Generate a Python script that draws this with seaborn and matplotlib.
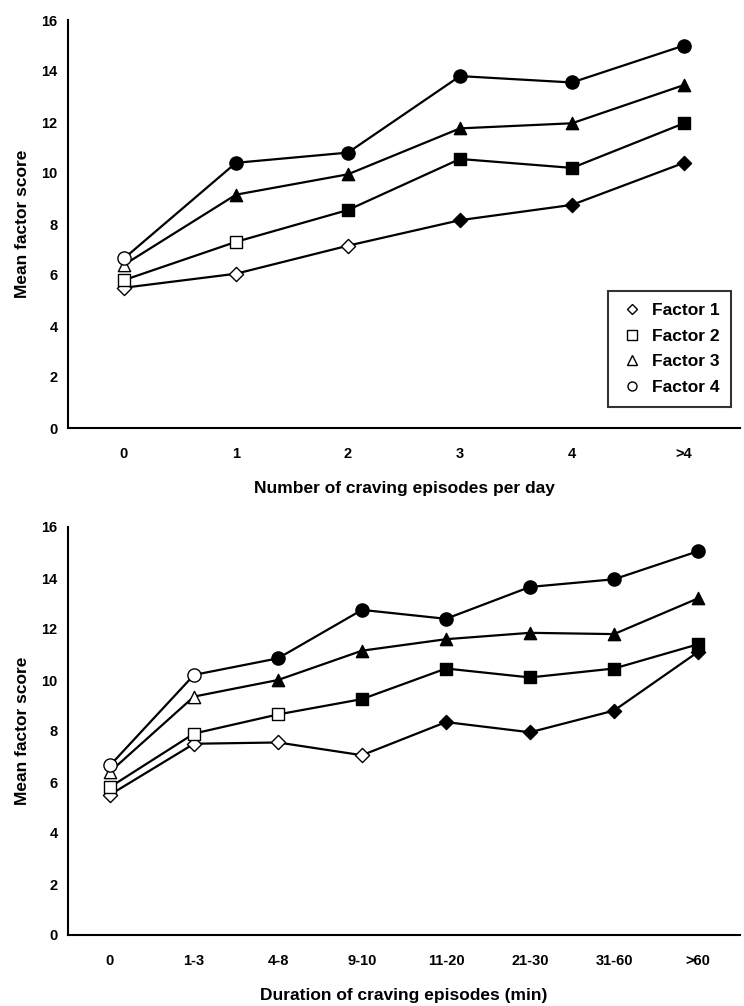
import matplotlib
matplotlib.use("Agg")
import matplotlib.pyplot as plt
from matplotlib.lines import Line2D
import pandas as pd
import seaborn as sns

factors = ["Factor 1", "Factor 2", "Factor 3", "Factor 4"]
markers = {"Factor 1": "D", "Factor 2": "s", "Factor 3": "^", "Factor 4": "o"}
marker_sizes = {"Factor 1": 52, "Factor 2": 66, "Factor 3": 78, "Factor 4": 90}

# top panel: number of craving episodes per day
episodes = ["0", "1", "2", "3", "4", ">4"]
ep_f1 = [5.5, 6.05, 7.15, 8.15, 8.75, 10.4]
ep_f2 = [5.8, 7.3, 8.55, 10.55, 10.2, 11.95]
ep_f3 = [6.4, 9.15, 9.95, 11.75, 11.95, 13.45]
ep_f4 = [6.65, 10.4, 10.8, 13.8, 13.55, 15.0]
# number of leading (open, non significant) points for each factor
ep_open = [3, 2, 1, 1]

# bottom panel: duration of craving episodes
durations = ["0", "1-3", "4-8", "9-10", "11-20", "21-30", "31-60", ">60"]
du_f1 = [5.5, 7.5, 7.55, 7.05, 8.35, 7.95, 8.8, 11.1]
du_f2 = [5.8, 7.9, 8.65, 9.25, 10.45, 10.1, 10.45, 11.4]
du_f3 = [6.4, 9.35, 10.0, 11.15, 11.6, 11.85, 11.8, 13.2]
du_f4 = [6.65, 10.2, 10.85, 12.75, 12.4, 13.65, 13.95, 15.05]
du_open = [4, 3, 2, 2]


def make_frame(cats, series, n_open):
    rows = []
    for name, vals, k in zip(factors, series, n_open):
        for i, (c, v) in enumerate(zip(cats, vals)):
            rows.append({"cat": i, "label": c, "factor": name,
                         "score": v, "filled": i >= k})
    return pd.DataFrame(rows)


def draw_panel(ax, df, cats, xlabel):
    sns.lineplot(data=df, x="cat", y="score", units="factor",
                 estimator=None, color="black", linewidth=1.6, ax=ax,
                 zorder=2)
    for name in factors:
        sub = df[df["factor"] == name]
        for filled, part in sub.groupby("filled"):
            sns.scatterplot(data=part, x="cat", y="score", ax=ax,
                            marker=markers[name], s=marker_sizes[name],
                            color="black" if filled else "white",
                            edgecolor="black", linewidth=1.0, zorder=3,
                            legend=False)
    n = len(cats)
    ax.set_xlim(-0.5, n - 0.5)
    ax.set_ylim(0, 16)
    ax.set_yticks(range(0, 17, 2))
    ax.set_xticks([i - 0.5 for i in range(n + 1)])
    ax.set_xticklabels([])
    ax.set_xticks(range(n), minor=True)
    ax.set_xticklabels(cats, minor=True)
    ax.tick_params(axis="x", which="minor", length=0, pad=14)
    ax.tick_params(axis="x", which="major", length=5, width=1.5,
                   direction="out", color="black")
    ax.tick_params(axis="y", length=4, width=1.5, direction="out",
                   color="black")
    for lab in ax.get_xticklabels(minor=True) + ax.get_yticklabels():
        lab.set_fontweight("bold")
        lab.set_fontsize(10.5)
        lab.set_color("black")
    ax.set_xlabel(xlabel, fontsize=12.5, fontweight="bold", labelpad=14,
                  color="black")
    ax.set_ylabel("Mean factor score", fontsize=12.5, fontweight="bold",
                  labelpad=8, color="black")
    for side in ["top", "right"]:
        ax.spines[side].set_visible(False)
    for side in ["left", "bottom"]:
        ax.spines[side].set_linewidth(1.5)
        ax.spines[side].set_color("black")


sns.set_theme(style="white")
plt.rcParams["font.family"] = ["Liberation Sans Narrow", "Liberation Sans",
                               "DejaVu Sans"]
plt.rcParams["text.color"] = "black"
plt.rcParams["axes.labelcolor"] = "black"
plt.rcParams["xtick.color"] = "black"
plt.rcParams["ytick.color"] = "black"

fig = plt.figure(figsize=(7.44, 10.06), dpi=100)
ax1 = fig.add_axes([68 / 744, 1 - 428 / 1006, 672 / 744, 408 / 1006])
ax2 = fig.add_axes([68 / 744, 1 - 935 / 1006, 672 / 744, 408 / 1006])

top_df = make_frame(episodes, [ep_f1, ep_f2, ep_f3, ep_f4], ep_open)
bottom_df = make_frame(durations, [du_f1, du_f2, du_f3, du_f4], du_open)

draw_panel(ax1, top_df, episodes, "Number of craving episodes per day")
draw_panel(ax2, bottom_df, durations, "Duration of craving episodes (min)")

handles = [Line2D([], [], linestyle="none", marker=markers[f],
                  markersize=6.5 if f != "Factor 1" else 5.5,
                  markerfacecolor="white", markeredgecolor="black",
                  markeredgewidth=1.0, label=f) for f in factors]
leg = ax1.legend(handles=handles, loc="lower right",
                 bbox_to_anchor=(1.0, 0.03), frameon=True, fancybox=False,
                 edgecolor="black", prop={"weight": "bold", "size": 12.5},
                 handletextpad=0.5, labelspacing=0.6, borderpad=0.7,
                 handlelength=1.3)
leg.get_frame().set_linewidth(1.5)
for t in leg.get_texts():
    t.set_color("black")

fig.savefig("out.png", dpi=100)
